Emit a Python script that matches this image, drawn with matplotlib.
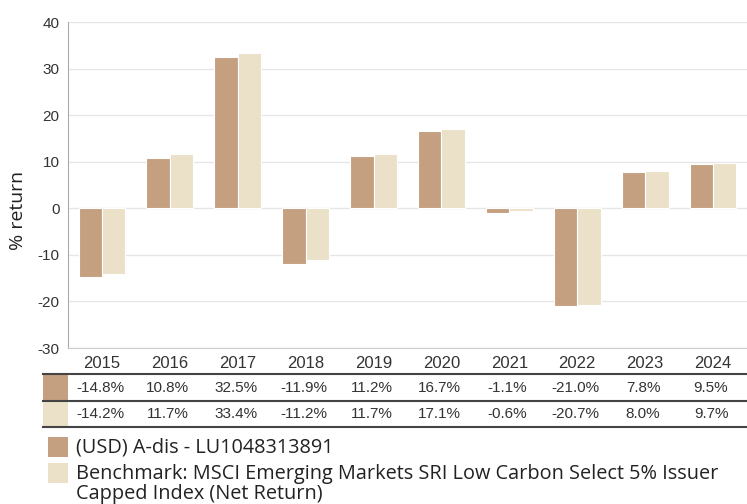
import matplotlib
matplotlib.use("Agg")
import matplotlib.pyplot as plt
from matplotlib.patches import Rectangle
from matplotlib.lines import Line2D
import numpy as np

years = ["2015", "2016", "2017", "2018", "2019", "2020", "2021", "2022", "2023", "2024"]
fund = [-14.8, 10.8, 32.5, -11.9, 11.2, 16.7, -1.1, -21.0, 7.8, 9.5]
bench = [-14.2, 11.7, 33.4, -11.2, 11.7, 17.1, -0.6, -20.7, 8.0, 9.7]
fund_name = "(USD) A-dis - LU1048313891"
bench_name = "Benchmark: MSCI Emerging Markets SRI Low Carbon Select 5% Issuer\nCapped Index (Net Return)"
yticks = [-30, -20, -10, 0, 10, 20, 30, 40]

c_fund = "#C49F80"
c_bench = "#EBE1C8"
W, H = 747, 504

fig = plt.figure(figsize=(W / 100, H / 100), dpi=100)

def fx(px):
    return px / W

def fy(py):
    return 1 - py / H

ax = fig.add_axes([fx(68), fy(348), fx(747) - fx(68), fy(22) - fy(348)])
x = np.arange(len(years))
bw = 0.345
ax.bar(x - bw / 2, fund, bw, color=c_fund, edgecolor="white", linewidth=0.8, zorder=3)
ax.bar(x + bw / 2, bench, bw, color=c_bench, edgecolor="white", linewidth=0.8, zorder=3)
ax.set_xlim(-0.5, len(years) - 0.5)
ax.set_ylim(-30, 40)
ax.set_yticks(yticks)
ax.set_yticklabels([str(v) for v in yticks], fontsize=11, color="#333333", family="Liberation Sans")
ax.set_xticks(x)
ax.set_xticklabels(years, fontsize=12, color="#333333", family="Liberation Sans")
ax.tick_params(axis="y", length=0, pad=6)
ax.tick_params(axis="x", length=0, pad=6)
ax.grid(axis="y", color="#e6e6e6", linewidth=1, zorder=0)
for s in ["top", "right"]:
    ax.spines[s].set_visible(False)
ax.spines["left"].set_color("#aaaaaa")
ax.spines["bottom"].set_color("#cccccc")
fig.text(fx(18), fy(210), "% return", rotation=90, ha="center", va="center",
         fontsize=14, color="#222222", family="Open Sans")

# table
for yy in [374, 400.5, 427]:
    fig.add_artist(Line2D([fx(43), fx(747)], [fy(yy), fy(yy)], color="#444444", linewidth=1.5))
fig.add_artist(Rectangle((fx(43), fy(399.5)), fx(68) - fx(43), fy(375) - fy(399.5), color=c_fund, lw=0))
fig.add_artist(Rectangle((fx(43), fy(426)), fx(68) - fx(43), fy(401.5) - fy(426), color=c_bench, lw=0))
for i in range(len(years)):
    cx = fx(68 + (i + 0.5) * (747 - 68) / len(years)) - 2 / W
    fig.text(cx, fy(388), f"{fund[i]:.1f}%", ha="center", va="center", fontsize=11,
             color="#333333", family="Liberation Sans")
    fig.text(cx, fy(414), f"{bench[i]:.1f}%", ha="center", va="center", fontsize=11,
             color="#333333", family="Liberation Sans")

# legend
fig.add_artist(Rectangle((fx(48), fy(457)), fx(68) - fx(48), fy(437) - fy(457), color=c_fund, lw=0))
fig.add_artist(Rectangle((fx(48), fy(483)), fx(68) - fx(48), fy(463) - fy(483), color=c_bench, lw=0))
fig.text(fx(76), fy(448), fund_name, ha="left", va="center", fontsize=14.3, color="#222222", family="Open Sans")
for j, line in enumerate(bench_name.split("\n")):
    fig.text(fx(76), fy(474 + 20 * j), line, ha="left", va="center", fontsize=14.3,
             color="#222222", family="Open Sans")

fig.savefig("out.png", dpi=100)
